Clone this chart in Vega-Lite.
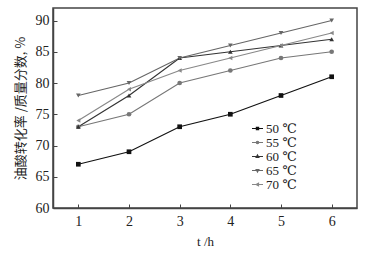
{
  "$schema": "https://vega.github.io/schema/vega-lite/v6.json",
  "width": 304,
  "height": 200,
  "autosize": {"type": "none"},
  "padding": {"left": 53, "top": 8, "right": 8, "bottom": 46},
  "background": "white",
  "data": {"values": [
    {"t": 1, "y": 67, "s": "50 ℃"}, {"t": 2, "y": 69, "s": "50 ℃"}, {"t": 3, "y": 73, "s": "50 ℃"}, {"t": 4, "y": 75, "s": "50 ℃"}, {"t": 5, "y": 78, "s": "50 ℃"}, {"t": 6, "y": 81, "s": "50 ℃"},
    {"t": 1, "y": 73, "s": "55 ℃"}, {"t": 2, "y": 75, "s": "55 ℃"}, {"t": 3, "y": 80, "s": "55 ℃"}, {"t": 4, "y": 82, "s": "55 ℃"}, {"t": 5, "y": 84, "s": "55 ℃"}, {"t": 6, "y": 85, "s": "55 ℃"},
    {"t": 1, "y": 73, "s": "60 ℃"}, {"t": 2, "y": 78, "s": "60 ℃"}, {"t": 3, "y": 84, "s": "60 ℃"}, {"t": 4, "y": 85, "s": "60 ℃"}, {"t": 5, "y": 86, "s": "60 ℃"}, {"t": 6, "y": 87, "s": "60 ℃"},
    {"t": 1, "y": 78, "s": "65 ℃"}, {"t": 2, "y": 80, "s": "65 ℃"}, {"t": 3, "y": 84, "s": "65 ℃"}, {"t": 4, "y": 86, "s": "65 ℃"}, {"t": 5, "y": 88, "s": "65 ℃"}, {"t": 6, "y": 90, "s": "65 ℃"},
    {"t": 1, "y": 74, "s": "70 ℃"}, {"t": 2, "y": 79, "s": "70 ℃"}, {"t": 3, "y": 82, "s": "70 ℃"}, {"t": 4, "y": 84, "s": "70 ℃"}, {"t": 5, "y": 86, "s": "70 ℃"}, {"t": 6, "y": 88, "s": "70 ℃"}
  ]},
  "encoding": {
    "x": {"field": "t", "type": "quantitative", "scale": {"domain": [0.5, 6.5], "nice": false, "zero": false},
      "axis": {"values": [1, 2, 3, 4, 5, 6], "title": "t /h", "grid": false, "tickSize": -4, "labelPadding": 10, "titlePadding": 7}},
    "y": {"field": "y", "type": "quantitative", "scale": {"domain": [60, 92], "nice": false, "zero": false},
      "axis": {"values": [60, 65, 70, 75, 80, 85, 90], "title": "油酸转化率 /质量分数, %", "grid": false, "tickSize": -4, "labelPadding": 8, "titlePadding": 8, "titleFont": "Noto Sans CJK SC", "titleFontWeight": "normal"}},
    "color": {"field": "s", "type": "nominal",
      "scale": {"domain": ["50 ℃", "55 ℃", "60 ℃", "65 ℃", "70 ℃"], "range": ["#111111", "#777777", "#333333", "#666666", "#888888"]},
      "legend": {"orient": "none", "legendX": 198, "legendY": 114, "title": null, "labelFont": "Liberation Serif, DejaVu Serif", "labelFontSize": 13, "labelColor": "#222", "symbolSize": 121, "rowPadding": 0, "labelOffset": 2, "symbolStrokeWidth": 1.2,
        "encode": {"symbols": {"update": {
          "shape": {"signal": "datum.value === '50 ℃' ? 'M-1,0H1M-0.2,-0.2H0.2V0.2H-0.2Z' : datum.value === '55 ℃' ? 'M-1,0H1M0.22,0A0.22,0.22,0,1,1,-0.22,0A0.22,0.22,0,1,1,0.22,0Z' : datum.value === '60 ℃' ? 'M-1,0H1M0,-0.26L0.24,0.18L-0.24,0.18Z' : datum.value === '65 ℃' ? 'M-1,0H1M0,0.26L0.24,-0.18L-0.24,-0.18Z' : 'M-1,0H1M-0.26,0L0.18,-0.24L0.18,0.24Z'"},
          "fill": {"scale": "color", "field": "value"},
          "stroke": {"scale": "color", "field": "value"},
          "opacity": {"value": 1}
        }}}}}
  },
  "layer": [
    {"mark": {"type": "line", "strokeWidth": 1.2}},
    {"transform": [{"filter": "datum.s === '50 ℃'"}], "mark": {"type": "point", "shape": "square", "filled": true, "size": 22, "opacity": 1}},
    {"transform": [{"filter": "datum.s === '55 ℃'"}], "mark": {"type": "point", "shape": "circle", "filled": true, "size": 22, "opacity": 1}},
    {"transform": [{"filter": "datum.s === '60 ℃'"}], "mark": {"type": "point", "shape": "triangle-up", "filled": true, "size": 22, "opacity": 1}},
    {"transform": [{"filter": "datum.s === '65 ℃'"}], "mark": {"type": "point", "shape": "triangle-down", "filled": true, "size": 22, "opacity": 1}},
    {"transform": [{"filter": "datum.s === '70 ℃'"}], "mark": {"type": "point", "shape": "triangle-left", "filled": true, "size": 22, "opacity": 1}}
  ],
  "config": {
    "view": {"stroke": "#444", "strokeWidth": 1.5},
    "axis": {"domainColor": "#444", "domainWidth": 1.5, "tickColor": "#444", "labelFont": "Liberation Serif", "labelFontSize": 14, "labelColor": "#222", "titleFont": "Liberation Serif", "titleFontSize": 13, "titleFontWeight": "normal", "titleColor": "#222"}
  }
}
